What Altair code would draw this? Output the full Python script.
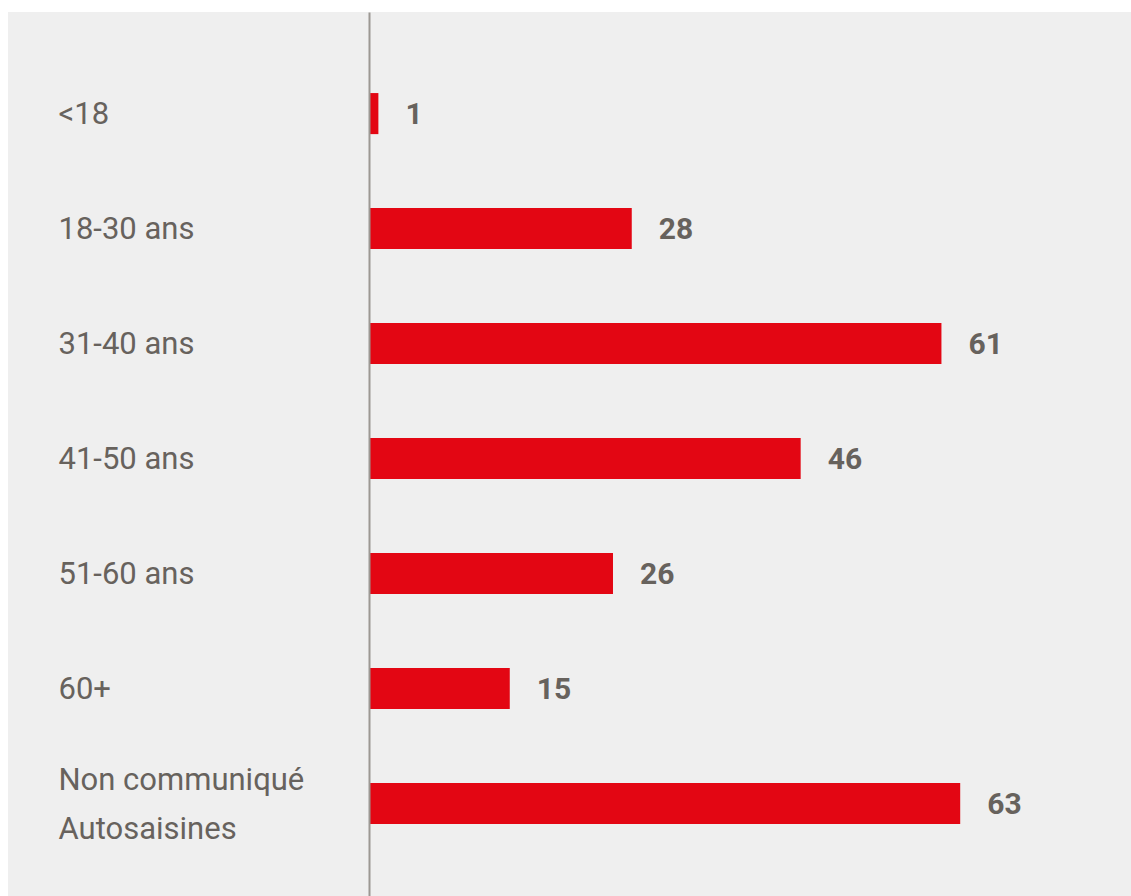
import altair as alt
import pandas as pd

categories = ["<18", "18-30 ans", "31-40 ans", "41-50 ans", "51-60 ans", "60+", "Non communiqué|Autosaisines"]
values = [1, 28, 61, 46, 26, 15, 63]

df = pd.DataFrame({"cat": categories, "val": values})

FONT = "Roboto"
TXT = "#67625d"
RED = "#e30613"
BG = "#efefef"

W, H = 762, 884

y_enc = alt.Y(
    "cat:N",
    sort=categories,
    scale=alt.Scale(paddingInner=0.643, paddingOuter=0.665, align=0.53),
    axis=alt.Axis(
        title=None,
        domain=True,
        domainColor="#9c9893",
        domainWidth=2,
        ticks=False,
        tickSize=0,
        grid=False,
        labelAlign="left",
        labelBaseline="middle",
        labelPadding=311,
        labelFont=FONT,
        labelFontSize=31,
        labelColor=TXT,
        labelLimit=400,
        labelLineHeight=49,
        labelOffset={"condition": {"test": "indexof(datum.value, '|') >= 0", "value": -23}, "value": 1},
        labelExpr="split(datum.label, '|')",
        zindex=1,
    ),
)

x_enc = alt.X("val:Q", scale=alt.Scale(domain=[0, 81.2], nice=False, zero=True), axis=None)

panel = alt.Chart(pd.DataFrame({"a": [0]})).mark_rect(color=BG).encode(
    x=alt.value(-361), x2=alt.value(0), y=alt.value(0), y2=alt.value(H)
)

bars = alt.Chart(df).mark_bar(color=RED).encode(x=x_enc, y=y_enc)

labels = alt.Chart(df).mark_text(
    align="left", baseline="middle", dx=27, dy=1, font=FONT, fontSize=30, fontWeight="bold", color=TXT
).encode(x=x_enc, y=alt.Y("cat:N", sort=categories), text="val:Q")

chart = alt.layer(panel, bars, labels).properties(
    width=W,
    height=H,
    background="white",
    padding={"left": 369, "top": 12, "right": 0, "bottom": 0},
    autosize=alt.AutoSizeParams(type="none"),
).configure_view(fill=BG, stroke=None)

chart.save("out.html", embed_options={"renderer": "svg", "actions": False})
